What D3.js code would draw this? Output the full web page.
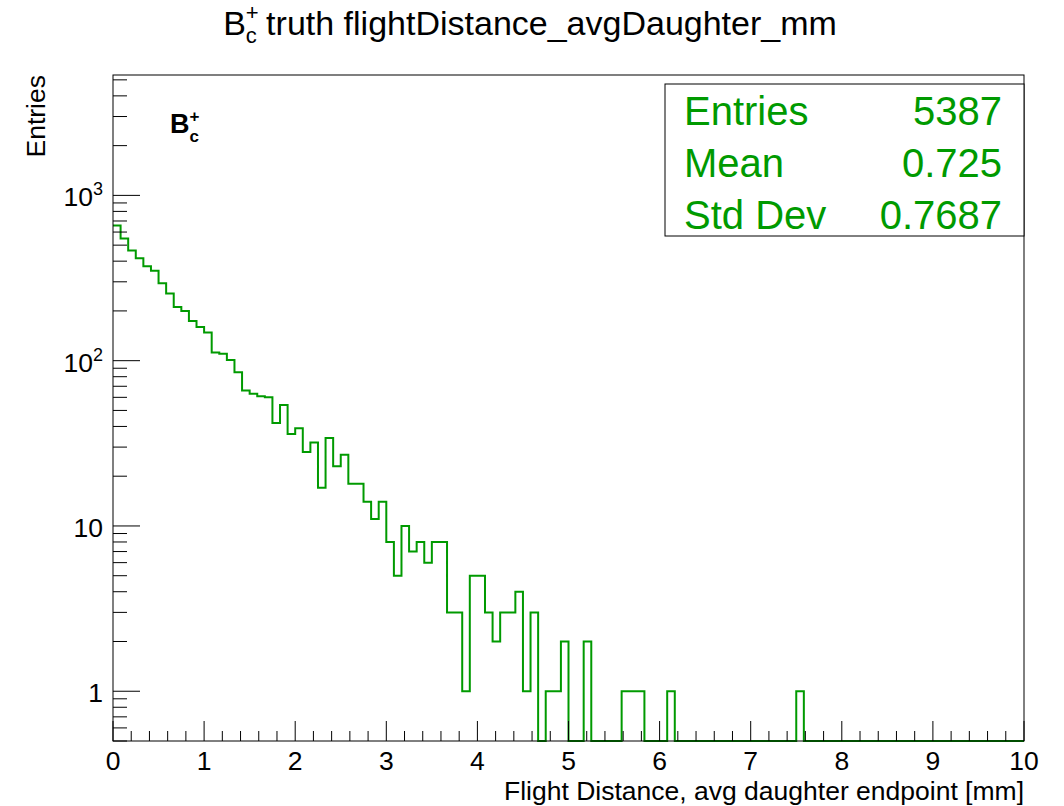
<!DOCTYPE html>
<html>
<head>
<meta charset="utf-8">
<script src="https://cdn.jsdelivr.net/npm/d3@7"></script>
<style>
  body { margin: 0; background: #fff; }
  svg text { font-family: "Liberation Sans", Arial, sans-serif; }
</style>
</head>
<body>
<div id="chart"></div>
<script>
"use strict";

// histogram: 120 bins over [0, 10] mm
const xRange = [0, 10];
const binCounts = [
  658, 549, 464, 416, 373, 350, 294, 255, 211, 200,
  174, 160, 148, 112, 110, 101, 85, 66, 63, 61,
  60, 42, 54, 36, 39, 28, 32, 17, 34, 23,
  27, 18, 18, 14, 11, 14, 8, 5, 10, 7,
  8, 6, 8, 8, 3, 3, 1, 5, 5, 3,
  2, 3, 3, 4, 1, 3, 0, 1, 1, 2,
  0, 0, 2, 0, 0, 0, 0, 1, 1, 1,
  0, 0, 0, 1, 0, 0, 0, 0, 0, 0,
  0, 0, 0, 0, 0, 0, 0, 0, 0, 0,
  1, 0, 0, 0, 0, 0, 0, 0, 0, 0,
  0, 0, 0, 0, 0, 0, 0, 0, 0, 0,
  0, 0, 0, 0, 0, 0, 0, 0, 0, 0,
];
const yRange = [0.5, 5350];
const xTicks = [0, 1, 2, 3, 4, 5, 6, 7, 8, 9, 10];
const yMajorTicks = [1, 10, 100, 1000];
const yTickLabels = ["1", "10", "10^2", "10^3"];
const statNames = ["Entries", "Mean", "Std Dev"];
const statValues = ["5387", "0.725", "0.7687"];

const W = 1064, H = 806;
const padL = 113, padR = 1024, padT = 75, padB = 741;
const green = "#009a00";
const axisFont = 26.5;

const svg = d3.select("#chart").append("svg")
  .attr("width", W).attr("height", H);

const x = d3.scaleLinear().domain(xRange).range([padL, padR]);
const y = d3.scaleLog().domain(yRange).range([padB, padT]);

// histogram outline
const nb = binCounts.length;
const bw = (xRange[1] - xRange[0]) / nb;
const yv = (c) => (c <= 0 ? padB : Math.max(padT, y(c)));
let pts = [];
binCounts.forEach((c, i) => {
  pts.push([x(i * bw), yv(c)]);
  pts.push([x((i + 1) * bw), yv(c)]);
});
svg.append("path")
  .attr("d", d3.line()(pts))
  .attr("fill", "none")
  .attr("stroke", green)
  .attr("stroke-width", 2);

// frame
svg.append("rect")
  .attr("x", padL).attr("y", padT)
  .attr("width", padR - padL).attr("height", padB - padT)
  .attr("fill", "none").attr("stroke", "#000").attr("stroke-width", 1);

// x axis ticks
const xg = svg.append("g").attr("stroke", "#000").attr("stroke-width", 1);
const xMinor = d3.range(0, 10.001, 0.2);
xMinor.forEach((v) => {
  const major = Math.abs(v - Math.round(v)) < 1e-6;
  xg.append("line")
    .attr("x1", x(v)).attr("x2", x(v))
    .attr("y1", padB).attr("y2", padB - (major ? 20 : 10));
});
svg.append("g").selectAll("text").data(xTicks).enter().append("text")
  .attr("x", (d) => x(d)).attr("y", padB + 29)
  .attr("text-anchor", "middle")
  .attr("font-size", axisFont)
  .text((d) => d);

svg.append("text")
  .attr("x", padR).attr("y", 800)
  .attr("text-anchor", "end")
  .attr("font-size", axisFont)
  .text("Flight Distance, avg daughter endpoint [mm]");

// y axis ticks
const yg = svg.append("g").attr("stroke", "#000").attr("stroke-width", 1);
const yAll = [];
[0.1, 1, 10, 100, 1000].forEach((d) => {
  for (let k = 1; k <= 9; k++) yAll.push({ v: d * k, major: k === 1 });
});
yAll.filter((t) => t.v >= yRange[0] && t.v <= yRange[1]).forEach((t) => {
  yg.append("line")
    .attr("x1", padL).attr("x2", padL + (t.major ? 27 : 14))
    .attr("y1", y(t.v)).attr("y2", y(t.v));
});

const ylab = svg.append("g").selectAll("text").data(yMajorTicks).enter()
  .append("text")
  .attr("x", padL - 10).attr("y", (d) => y(d) + 11)
  .attr("text-anchor", "end")
  .attr("font-size", axisFont);
ylab.each(function (d, i) {
  const parts = yTickLabels[i].split("^");
  const t = d3.select(this);
  t.append("tspan").text(parts[0]);
  if (parts[1]) {
    t.append("tspan").attr("dy", -11).attr("font-size", 18).text(parts[1]);
  }
});

svg.append("text")
  .attr("transform", `translate(45, ${padT}) rotate(-90)`)
  .attr("text-anchor", "end")
  .attr("font-size", axisFont)
  .text("Entries");

// title
const title = svg.append("text")
  .attr("x", 530).attr("y", 35)
  .attr("text-anchor", "middle")
  .attr("font-size", 34);
title.append("tspan").text("B");
title.append("tspan").attr("font-size", 22).attr("dy", -15).text("+");
title.append("tspan").attr("font-size", 22).attr("dx", -13).attr("dy", 23).text("c");
title.append("tspan").attr("dy", -8).text(" truth flightDistance_avgDaughter_mm");

// particle label
const lab = svg.append("text")
  .attr("x", 170).attr("y", 133)
  .attr("font-size", 27).attr("font-weight", "bold");
lab.append("tspan").text("B");
lab.append("tspan").attr("font-size", 17).attr("dy", -11).text("+");
lab.append("tspan").attr("font-size", 17).attr("dx", -10).attr("dy", 20).text("c");

// stats box
const box = svg.append("g");
box.append("rect")
  .attr("x", 665).attr("y", 84)
  .attr("width", padR - 665).attr("height", 152)
  .attr("fill", "#fff").attr("stroke", "#000").attr("stroke-width", 1);
statNames.forEach((n, i) => {
  box.append("text")
    .attr("x", 684).attr("y", 125 + i * 52)
    .attr("font-size", 40).attr("fill", green)
    .text(n);
  box.append("text")
    .attr("x", 1002).attr("y", 125 + i * 52)
    .attr("text-anchor", "end")
    .attr("font-size", 40).attr("fill", green)
    .text(statValues[i]);
});
</script>
</body>
</html>
